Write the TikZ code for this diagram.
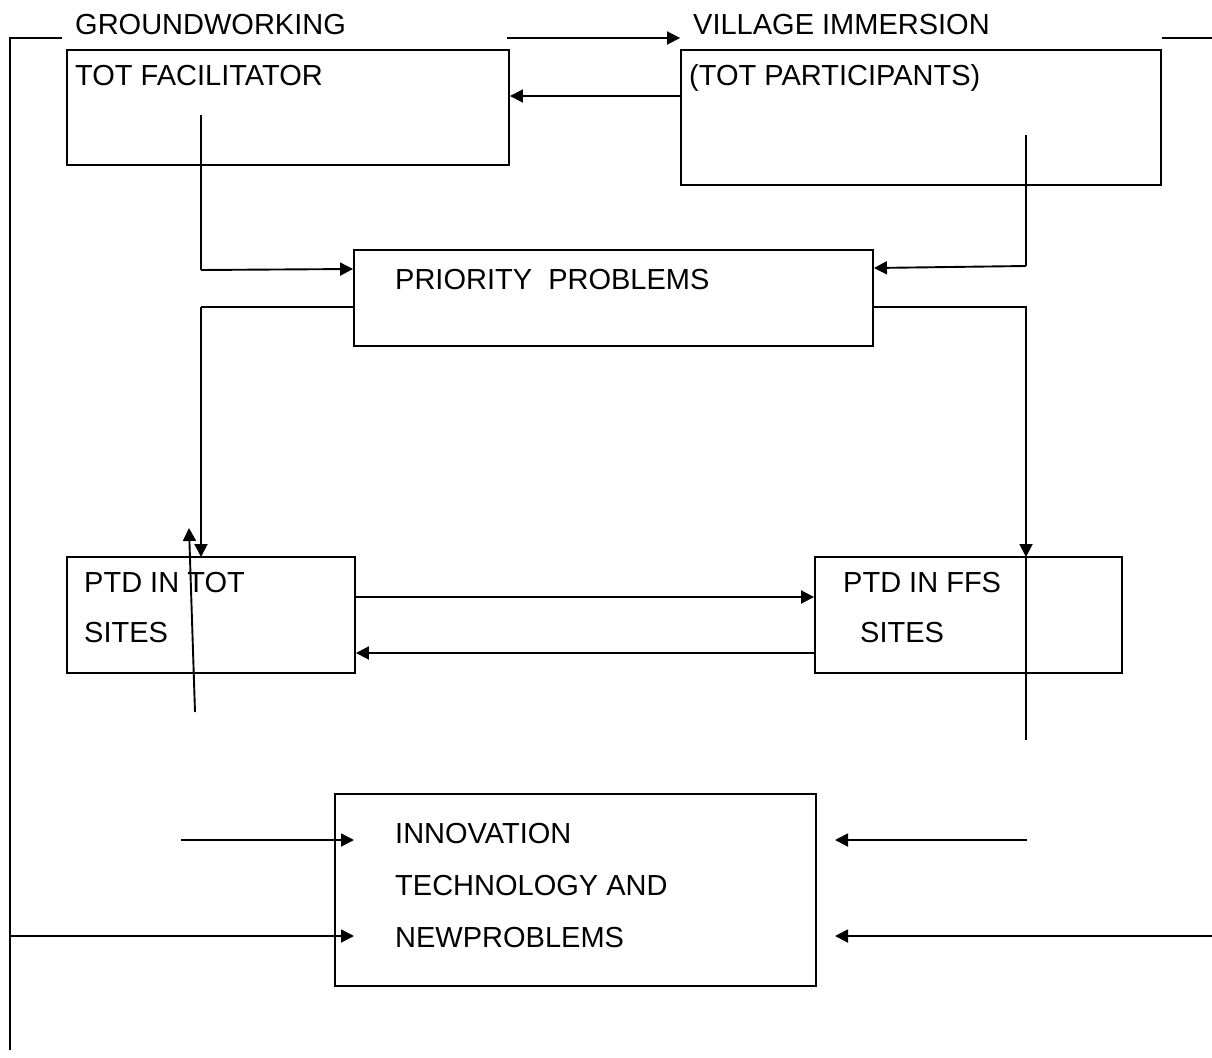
\documentclass[tikz,border=0pt]{standalone}
\usepackage{fontspec}
\setmainfont{Liberation Sans}
\usetikzlibrary{arrows.meta}
\begin{document}
\begin{tikzpicture}[x=1pt,y=-1pt,
  ln/.style={line width=1.9pt},
  arr/.style={ln,-{Triangle[length=13pt,width=13pt]}},
  box/.style={draw,line width=1.9pt,rectangle,inner sep=0pt,minimum width=#1},
  txt/.style={anchor=base west,inner sep=0pt,font=\fontsize{29}{35}\selectfont}]
\useasboundingbox (0,0) rectangle (1212,1057);
\fill[white] (0,0) rectangle (1212,1057);
% boxes
\node[box=442pt,minimum height=115pt] (fac) at (288,107.5) {};
\node[box=480pt,minimum height=135pt] (part) at (921,117.5) {};
\node[box=519pt,minimum height=96pt] (prio) at (613.5,298) {};
\node[box=288pt,minimum height=116pt] (tot) at (211,615) {};
\node[box=307pt,minimum height=116pt] (ffs) at (968.5,615) {};
\node[box=481pt,minimum height=192pt] (inno) at (575.5,890) {};
% texts
\node[txt] (tg) at (75,35) {GROUNDWORKING};
\node[txt] (tv) at (693,35) {VILLAGE IMMERSION};
\node[txt] (tf) at (75,85) {TOT FACILITATOR};
\node[txt] (tp) at (689,85) {(TOT PARTICIPANTS)};
\node[txt] (tpr) at (395,289) {PRIORITY\ \ PROBLEMS};
\node[txt] (tt1) at (84,592) {PTD IN TOT};
\node[txt] (tt2) at (84,642) {SITES};
\node[txt] (tf1) at (843,592) {PTD IN FFS};
\node[txt] (tf2) at (860,642) {SITES};
\node[txt] (ti1) at (395,843) {INNOVATION};
\node[txt] (ti2) at (395,895) {TECHNOLOGY AND};
\node[txt] (ti3) at (395,947) {NEWPROBLEMS};
% coordinates
\coordinate (frameA) at (62,38);
\coordinate (frameB) at (10,38);
\coordinate (frameC) at (10,1050);
\coordinate (topA) at (507,38);
\coordinate (stubR) at (1212,38);
\coordinate (facD) at (201,115);
\coordinate (facC) at (201,270);
\coordinate (partD) at (1026,135);
\coordinate (partC) at (1026,266);
\coordinate (prL) at (201,307);
\coordinate (prR) at (1026,307);
\coordinate (prRe) at (1026,423);
\coordinate (ffsV) at (1026,557);
\coordinate (ffsVe) at (1026,740);
\coordinate (slA) at (195,712);
\coordinate (slB) at (189,528);
\coordinate (totT) at (201,557);
\coordinate (inL1s) at (181,840);
\coordinate (inL1e) at (354,840);
\coordinate (inL2s) at (10,936);
\coordinate (inL2e) at (354,936);
\coordinate (inR1s) at (1027,840);
\coordinate (inR1e) at (835,840);
\coordinate (inR2s) at (1212,936);
\coordinate (inR2e) at (835,936);
% connectors
\draw[ln] (frameA) -- (frameB) -- (frameC);
\draw[arr] (topA) -- (part.west |- topA);
\draw[ln] (part.east |- stubR) -- (stubR);
\draw[arr] (part.west |- 0,96) -- (fac.east |- 0,96);
\draw[ln] (facD) -- (facC);
\draw[arr] (facC) -- (prio.west |- 0,269);
\draw[ln] (partD) -- (partC);
\draw[arr] (partC) -- (prio.east |- 0,268);
\draw[ln] (prio.west |- prL) -- (prL);
\draw[arr] (prL) -- (totT);
\draw[ln] (prio.east |- prR) -- (prR) -- (prRe);
\draw[arr] (prRe) -- (ffsV);
\draw[ln] (ffsV) -- (ffsVe);
\draw[arr] (slA) -- (slB);
\draw[arr] (tot.east |- 0,597) -- (ffs.west |- 0,597);
\draw[arr] (ffs.west |- 0,653) -- (tot.east |- 0,653);
\draw[arr] (inL1s) -- (inL1e);
\draw[arr] (inL2s) -- (inL2e);
\draw[arr] (inR1s) -- (inR1e);
\draw[arr] (inR2s) -- (inR2e);
\end{tikzpicture}
\end{document}
